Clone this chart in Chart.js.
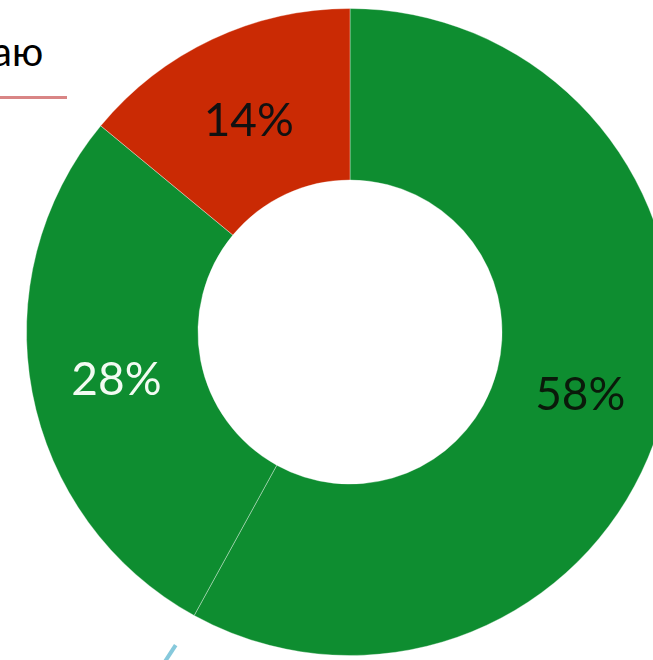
<!DOCTYPE html>
<html>
<head>
<meta charset="utf-8">
<script src="https://cdn.jsdelivr.net/npm/chart.js@4"></script>
<style>
  html, body { margin: 0; padding: 0; background: #fff; overflow: hidden; }
  body { width: 653px; height: 660px; position: relative; }
  #wrap { position: absolute; left: 0; top: 0; width: 700px; height: 664px; }
  #caption {
    position: absolute; left: -8px; top: 27px;
    font-family: Lato, sans-serif; font-size: 40px; color: #000;
    white-space: nowrap;
  }
  #rule { position: absolute; left: 0; top: 96px; width: 67px; height: 3px; background: #d98585; }
  #tick {
    position: absolute; left: 174px; top: 644px; width: 4px; height: 30px;
    background: #86c9dc; transform: rotate(33deg); transform-origin: top left;
  }
</style>
</head>
<body>
<div id="caption">аю</div>
<div id="rule"></div>
<div id="wrap"><canvas id="donut"></canvas></div>
<div id="tick"></div>
<script>
// share of answers, clockwise from 12 o'clock
const categories = ["A", "B", "C"];
const shares     = [58, 28, 14];
const sliceFill  = ["#0e8d30", "#0e8d30", "#ca2a04"];
const labelColor = ["#0a1a0a", "#f2fbf2", "#111111"];

// percentage text in the middle of each ring segment
const ringLabels = {
  id: "ringLabels",
  afterDatasetsDraw(chart) {
    const { ctx } = chart;
    const meta = chart.getDatasetMeta(0);
    ctx.save();
    ctx.font = "46px Lato, sans-serif";
    ctx.textAlign = "center";
    ctx.textBaseline = "middle";
    meta.data.forEach((arc, i) => {
      const p = arc.tooltipPosition();
      ctx.fillStyle = labelColor[i];
      ctx.fillText(shares[i] + "%", p.x, p.y + 4);
    });
    ctx.restore();
  },
};

new Chart(document.getElementById("donut"), {
  type: "doughnut",
  data: {
    labels: categories,
    datasets: [{
      data: shares,
      backgroundColor: sliceFill,
      borderColor: "rgba(255,255,255,0.35)",
      borderWidth: 1,
    }],
  },
  options: {
    responsive: true,
    maintainAspectRatio: false,
    animation: false,
    cutout: "47%",
    layout: { padding: 8 },
    plugins: {
      legend: { display: false },
      tooltip: { enabled: false },
    },
  },
  plugins: [ringLabels],
});
</script>
</body>
</html>
